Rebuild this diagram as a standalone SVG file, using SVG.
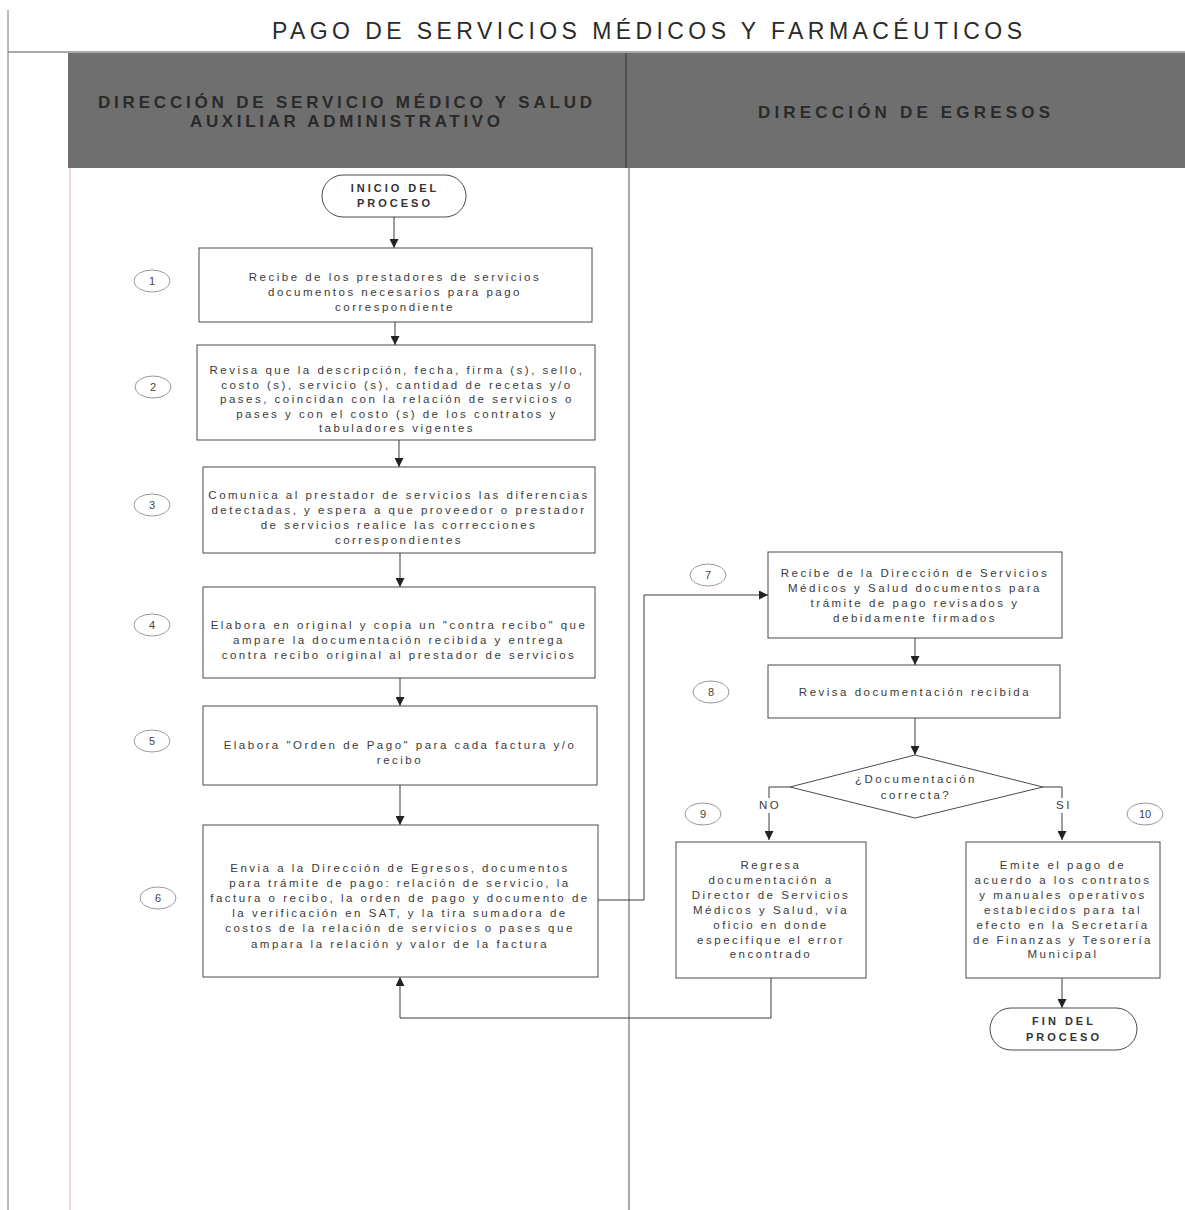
<svg xmlns="http://www.w3.org/2000/svg" width="1185" height="1210" viewBox="0 0 1185 1210">
<defs>
<style>
.t{font-family:"Liberation Sans",Arial,sans-serif;font-size:11.5px;letter-spacing:2.5px;fill:#3a3a3a;text-anchor:middle}
.term{font-family:"Liberation Sans",Arial,sans-serif;font-size:11px;letter-spacing:3px;fill:#333;text-anchor:middle;font-weight:bold}
.num{font-family:"Liberation Sans",Arial,sans-serif;font-size:11px;fill:#444;text-anchor:middle}
.box{fill:#fff;stroke:#4a4a4a;stroke-width:1}
.badge{fill:#fff;stroke:#9a9a9a;stroke-width:1}
.hdr{font-family:"Liberation Sans",Arial,sans-serif;font-size:17px;font-weight:bold;fill:#2a2a2a;text-anchor:middle}
.c{fill:none;stroke:#3a3a3a;stroke-width:1}
</style>
<marker id="ah" viewBox="0 0 10 10" refX="10" refY="5" markerWidth="9" markerHeight="9" markerUnits="userSpaceOnUse" orient="auto">
<path d="M0,0 L10,5 L0,10 z" fill="#222"/>
</marker>
</defs>
<rect width="1185" height="1210" fill="#fff"/>
<g id="frame">
<line x1="8" y1="52" x2="1185" y2="52" stroke="#555" stroke-width="1"/>
<line x1="8" y1="10" x2="8" y2="1210" stroke="#777" stroke-width="1"/>
<rect x="68" y="53" width="1117" height="115" fill="#6f6f6f"/>
<line x1="626" y1="53" x2="626" y2="168" stroke="#333" stroke-width="1"/>
<line x1="629" y1="168" x2="629" y2="1210" stroke="#555" stroke-width="1"/>
<line x1="70" y1="168" x2="70" y2="1210" stroke="#f0a8bc" stroke-width="1"/>
<text x="647" y="39" font-family="'Liberation Sans',Arial,sans-serif" font-size="23" fill="#2a2a2a" text-anchor="middle" textLength="750" lengthAdjust="spacing">PAGO DE SERVICIOS MÉDICOS Y FARMACÉUTICOS</text>
<text class="hdr" x="345" y="108" textLength="494" lengthAdjust="spacing">DIRECCIÓN DE SERVICIO MÉDICO Y SALUD</text>
<text class="hdr" x="345" y="127" textLength="310" lengthAdjust="spacing">AUXILIAR ADMINISTRATIVO</text>
<text class="hdr" x="904" y="118" textLength="292" lengthAdjust="spacing">DIRECCIÓN DE EGRESOS</text>
</g>
<g id="connectors">
<line class="c" x1="394" y1="217" x2="394" y2="248" marker-end="url(#ah)"/>
<line class="c" x1="395" y1="322" x2="395" y2="345" marker-end="url(#ah)"/>
<line class="c" x1="399" y1="440" x2="399" y2="467" marker-end="url(#ah)"/>
<line class="c" x1="400" y1="553" x2="400" y2="587" marker-end="url(#ah)"/>
<line class="c" x1="400" y1="678" x2="400" y2="706" marker-end="url(#ah)"/>
<line class="c" x1="400" y1="785" x2="400" y2="825" marker-end="url(#ah)"/>
<polyline class="c" points="598,900 644,900 644,595 768,595" marker-end="url(#ah)"/>
<polyline class="c" points="771,978 771,1018 400,1018 400,977" marker-end="url(#ah)"/>
<line class="c" x1="915" y1="638" x2="915" y2="665" marker-end="url(#ah)"/>
<line class="c" x1="915" y1="718" x2="915" y2="755" marker-end="url(#ah)"/>
<polyline class="c" points="790,787 769,787 769,840" marker-end="url(#ah)"/>
<polyline class="c" points="1043,787 1062,787 1062,840" marker-end="url(#ah)"/>
<line class="c" x1="1062" y1="978" x2="1062" y2="1008" marker-end="url(#ah)"/>
<rect x="754" y="798" width="30" height="15" fill="#fff"/>
<rect x="1050" y="798" width="26" height="15" fill="#fff"/>
<text class="t" x="770" y="809">NO</text>
<text class="t" x="1064" y="809">SI</text>
</g>
<g id="inicio">
<rect class="box" x="322" y="175" width="144" height="42" rx="21" ry="21"/>
<text class="term" x="395" y="192">INICIO DEL</text>
<text class="term" x="395" y="207">PROCESO</text>
</g>
<g id="step1">
<ellipse class="badge" cx="152" cy="281" rx="18" ry="11"/>
<text class="num" x="152" y="285">1</text>
<rect class="box" x="199" y="248" width="393" height="74"/>
<text class="t" x="395" y="281">Recibe de los prestadores de servicios</text>
<text class="t" x="395" y="296">documentos necesarios para pago</text>
<text class="t" x="395" y="311">correspondiente</text>
</g>
<g id="step2">
<ellipse class="badge" cx="153" cy="387" rx="18" ry="11"/>
<text class="num" x="153" y="391">2</text>
<rect class="box" x="197" y="345" width="398" height="95"/>
<text class="t" x="397" y="374">Revisa que la descripción,  fecha, firma (s), sello,</text>
<text class="t" x="397" y="389">costo (s), servicio (s), cantidad de recetas y/o</text>
<text class="t" x="397" y="403">pases, coincidan con la relación de servicios o</text>
<text class="t" x="397" y="418">pases y con el  costo (s) de los  contratos y</text>
<text class="t" x="397" y="432">tabuladores vigentes</text>
</g>
<g id="step3">
<ellipse class="badge" cx="152" cy="505" rx="18" ry="11"/>
<text class="num" x="152" y="509">3</text>
<rect class="box" x="203" y="467" width="392" height="86"/>
<text class="t" x="399" y="499">Comunica al prestador de servicios las diferencias</text>
<text class="t" x="399" y="514">detectadas, y espera a que proveedor o prestador</text>
<text class="t" x="399" y="529">de servicios realice  las correcciones</text>
<text class="t" x="399" y="544">correspondientes</text>
</g>
<g id="step4">
<ellipse class="badge" cx="152" cy="625" rx="18" ry="11"/>
<text class="num" x="152" y="629">4</text>
<rect class="box" x="203" y="587" width="392" height="91"/>
<text class="t" x="399" y="629">Elabora en original y copia un "contra recibo" que</text>
<text class="t" x="399" y="644">ampare la documentación recibida y entrega</text>
<text class="t" x="399" y="659">contra recibo original al prestador de servicios</text>
</g>
<g id="step5">
<ellipse class="badge" cx="152" cy="741" rx="18" ry="11"/>
<text class="num" x="152" y="745">5</text>
<rect class="box" x="203" y="706" width="394" height="79"/>
<text class="t" x="400" y="749">Elabora "Orden de Pago" para cada factura y/o</text>
<text class="t" x="400" y="764">recibo</text>
</g>
<g id="step6">
<ellipse class="badge" cx="158" cy="898" rx="18" ry="11"/>
<text class="num" x="158" y="902">6</text>
<rect class="box" x="203" y="825" width="395" height="152"/>
<text class="t" x="400" y="872">Envia a la Dirección de Egresos,  documentos</text>
<text class="t" x="400" y="887">para trámite de pago: relación de servicio, la</text>
<text class="t" x="400" y="902">factura o recibo, la orden de pago y documento de</text>
<text class="t" x="400" y="917">la verificación en SAT, y la  tira sumadora de</text>
<text class="t" x="400" y="932">costos de la relación de servicios o pases que</text>
<text class="t" x="400" y="948">ampara la relación y valor de la factura</text>
</g>
<g id="step7">
<ellipse class="badge" cx="708" cy="575" rx="18" ry="11"/>
<text class="num" x="708" y="579">7</text>
<rect class="box" x="768" y="552" width="294" height="86"/>
<text class="t" x="915" y="577">Recibe de la Dirección de Servicios</text>
<text class="t" x="915" y="592">Médicos y Salud documentos para</text>
<text class="t" x="915" y="607">trámite de pago revisados y</text>
<text class="t" x="915" y="622">debidamente firmados</text>
</g>
<g id="step8">
<ellipse class="badge" cx="711" cy="692" rx="18" ry="11"/>
<text class="num" x="711" y="696">8</text>
<rect class="box" x="768" y="665" width="292" height="53"/>
<text class="t" x="915" y="696">Revisa documentación recibida</text>
</g>
<g id="decision">
<polygon class="box" points="915,755 1043,787 915,818 790,787"/>
<text class="t" x="916" y="783">¿Documentación</text>
<text class="t" x="916" y="799">correcta?</text>
</g>
<g id="step9">
<ellipse class="badge" cx="703" cy="814" rx="18" ry="11"/>
<text class="num" x="703" y="818">9</text>
<rect class="box" x="676" y="842" width="190" height="136"/>
<text class="t" x="771" y="869">Regresa</text>
<text class="t" x="771" y="884">documentación a</text>
<text class="t" x="771" y="899">Director de Servicios</text>
<text class="t" x="771" y="914">Médicos y Salud, vía</text>
<text class="t" x="771" y="929">oficio en donde</text>
<text class="t" x="771" y="944">especifique el error</text>
<text class="t" x="771" y="958">encontrado</text>
</g>
<g id="step10">
<ellipse class="badge" cx="1145" cy="814" rx="18" ry="11"/>
<text class="num" x="1145" y="818">10</text>
<rect class="box" x="966" y="842" width="194" height="136"/>
<text class="t" x="1063" y="869">Emite el pago de</text>
<text class="t" x="1063" y="884">acuerdo a los contratos</text>
<text class="t" x="1063" y="899">y  manuales operativos</text>
<text class="t" x="1063" y="914">establecidos para tal</text>
<text class="t" x="1063" y="929">efecto en la Secretaría</text>
<text class="t" x="1063" y="944">de Finanzas y Tesorería</text>
<text class="t" x="1063" y="958">Municipal</text>
</g>
<g id="fin">
<rect class="box" x="990" y="1008" width="147" height="42" rx="21" ry="21"/>
<text class="term" x="1064" y="1025">FIN DEL</text>
<text class="term" x="1064" y="1041">PROCESO</text>
</g>
</svg>
